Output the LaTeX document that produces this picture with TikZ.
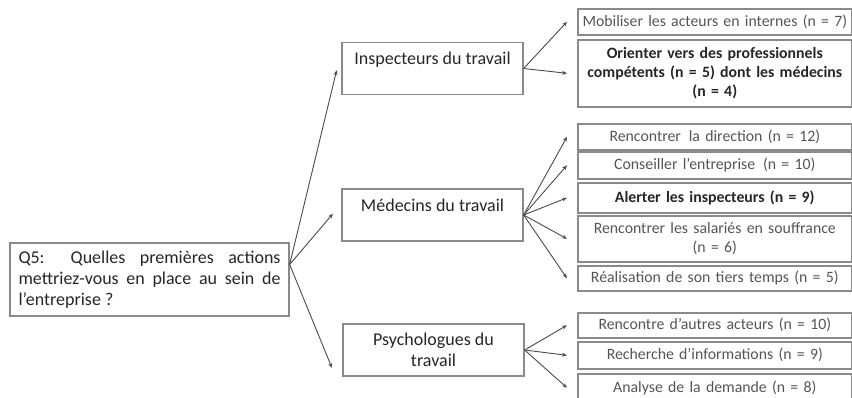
\documentclass[tikz,border=0pt]{standalone}
\usepackage{fontspec}
\setmainfont{Carlito}
\usetikzlibrary{arrows.meta}
\definecolor{boxgray}{HTML}{8A8A8A}
\definecolor{linegray}{HTML}{4A4A4A}
\definecolor{txtgray}{HTML}{555555}
\tikzset{
	qbox/.style={draw=boxgray, line width=1.3pt, text width=262pt, align=justify, inner xsep=8.5pt, minimum height=73pt, font=\fontsize{18}{21}\selectfont, text=black!85},
	midbox/.style={draw=boxgray, line width=1.3pt, minimum width=181pt, minimum height=52pt, align=center, font=\fontsize{18}{20.5}\selectfont, text=black!85},
	ansbox/.style={draw=boxgray, line width=1.6pt, anchor=north west, text width=266pt, inner xsep=4pt, inner ysep=2pt, align=center, font=\fontsize{15.8}{19}\selectfont, text=txtgray},
	conn/.style={draw=linegray, line width=0.9pt, -{Stealth[length=5pt,width=4pt]}}
}
\hyphenpenalty=10000
\exhyphenpenalty=10000

\begin{document}
\begin{tikzpicture}[x=1pt, y=-1pt]
	\useasboundingbox (0,0) rectangle (852,397);
	\clip (0,0) rectangle (852,397);
	%question
	\node[qbox] (q) at (149.5,279.5) {Q5: Quelles premières actions mettriez-vous en place au sein de l’entreprise ?};
	%middle column
	\node[midbox] (insp) at (432.5,68.5) {Inspecteurs du travail\\~};
	\node[midbox] (med) at (432.5,215) {Médecins du travail\\~};
	\node[midbox] (psy) at (433.5,350) {Psychologues du\\travail};
	%answers
	\foreach \nm/\ytop/\hgt/\txt in {
		mob/8/26/{Mobiliser les acteurs en internes (n~=~7)},
		ori/39/67/{\color{black!85}\bfseries Orienter vers des professionnels\\compétents (n~=~5) dont les médecins\\(n~=~4)},
		dir/123/26/{Rencontrer\, la direction (n~=~12)},
		cons/151/27/{Conseiller l’entreprise\, (n~=~10)},
		alert/182/30/{\color{black!85}\bfseries Alerter les inspecteurs (n~=~9)},
		sal/215/46/{Rencontrer les salariés en souffrance\\(n~=~6)},
		tiers/265/25/{Réalisation de son tiers temps (n~=~5)},
		autres/312/25/{Rencontre d’autres acteurs (n~=~10)},
		rech/341/27/{Recherche d’informations (n~=~9)},
		dem/373/28/{Analyse de la demande (n~=~8)}}
		\node[ansbox, minimum height=\hgt pt] (\nm) at (577,\ytop) {\txt};
	%connectors from the question
	\coordinate (qout) at ([yshift=15pt]q.east);
	\coordinate (psytip) at (332,368);
	\draw[conn, shorten >=20pt] (qout) -- (insp.169);
	\draw[conn, shorten >=13pt] (qout) -- (med.173);
	\draw[conn] (qout) -- (psytip);
	%connectors to the answers
	\foreach \c in {mob,ori}
		\draw[conn] (insp.east) -- ([xshift=-10pt]\c.west);
	\foreach \c in {dir,cons,alert,sal,tiers}
		\draw[conn] (med.east) -- ([xshift=-10pt]\c.west);
	\foreach \c in {autres,rech,dem}
		\draw[conn] (psy.east) -- ([xshift=-10pt]\c.west);
\end{tikzpicture}
\end{document}
